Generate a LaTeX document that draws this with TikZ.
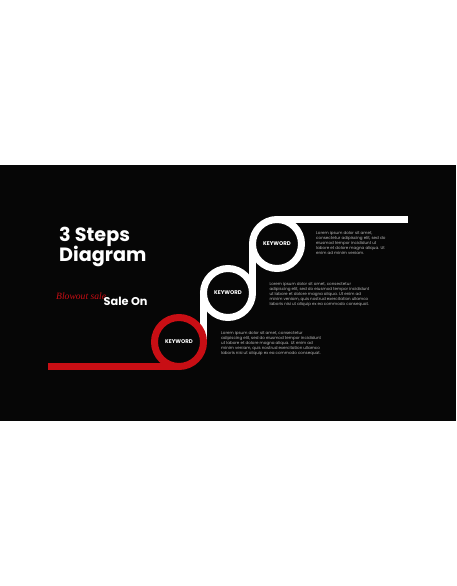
\documentclass[tikz,border=0pt]{standalone}
\usepackage{fontspec}
\setmainfont{Poppins}
\newfontfamily\blowfont{Liberation Serif}
\usetikzlibrary{backgrounds}
\definecolor{myred}{RGB}{200,14,20}
\definecolor{bandbg}{RGB}{6,6,6}
\definecolor{paragray}{RGB}{185,185,185}
\tikzset{
  pathline/.style={line width=7pt},
  ring/.style={circle, draw, line width=7pt, minimum size=49pt, inner sep=0pt, outer sep=0pt, text=white, font=\fontsize{5.4}{6}\selectfont\bfseries},
  para/.style={anchor=north west, inner sep=0pt, align=left, text=paragray, font=\fontsize{4.05}{5}\selectfont},
  title/.style={anchor=base west, inner sep=0pt, text=white, font=\fontsize{19.2}{20}\selectfont\bfseries}
}
\begin{document}
\begin{tikzpicture}[x=1pt,y=-1pt]
\useasboundingbox (0,0) rectangle (456,586);
\begin{pgfonlayer}{background}
\fill[white] (0,0) rectangle (456,586);
\fill[bandbg] (0,165) rectangle (456,421);
\end{pgfonlayer}

\node[ring, draw=myred] (c1) at (179,342) {KEYWORD};
\node[ring, draw=white] (c2) at (228,293) {KEYWORD};
\node[ring, draw=white] (c3) at (277,244) {KEYWORD};
\coordinate (start) at (48,342+24.5);
\coordinate (finish) at (407.5,244-24.5);

\begin{pgfonlayer}{background}
\draw[pathline, myred] (start) -- (c1.south);
\draw[pathline, white] (c1.east) -- (c2.west);
\draw[pathline, white] (c2.east) -- (c3.west);
\draw[pathline, white] (c3.north) -- (finish);
\end{pgfonlayer}

\node[title] (t1) at (59,241.7) {3 Steps};
\node[title] (t2) at (59,261.7) {Diagram};
\node[anchor=base west, inner sep=0pt, text=myred, font=\fontsize{9.6}{10}\selectfont\blowfont\itshape] (blow) at (56,299) {Blowout sale};
\node[anchor=base west, inner sep=0pt, text=white, font=\fontsize{11.3}{12}\selectfont\bfseries] (sale) at (103.5,305.7) {Sale On};

\node[para] (p3) at (316,231) {Lorem ipsum dolor sit amet,\\consectetur adipiscing elit, sed do\\eiusmod tempor incididunt ut\\labore et dolore magna aliqua. Ut\\enim ad minim veniam.};
\node[para] (p2) at (269.3,282) {Lorem ipsum dolor sit amet, consectetur\\adipiscing elit, sed do eiusmod tempor incididunt\\ut labore et dolore magna aliqua. Ut enim ad\\minim veniam, quis nostrud exercitation ullamco\\laboris nisi ut aliquip ex ea commodo consequat.};
\node[para] (p1) at (221,331) {Lorem ipsum dolor sit amet, consectetur\\adipiscing elit, sed do eiusmod tempor incididunt\\ut labore et dolore magna aliqua. Ut enim ad\\minim veniam, quis nostrud exercitation ullamco\\laboris nisi ut aliquip ex ea commodo consequat.};
\end{tikzpicture}
\end{document}
